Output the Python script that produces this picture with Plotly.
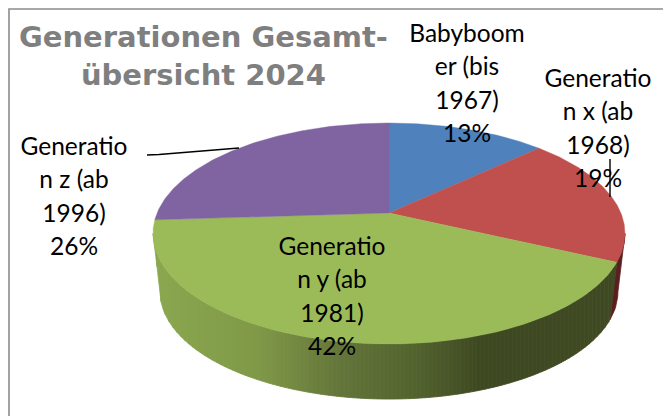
import numpy as np
import plotly.graph_objects as go

categories = ["Babyboomer (bis 1967)", "Generation x (ab 1968)", "Generation y (ab 1981)", "Generation z (ab 1996)"]
values = [13, 19, 42, 26]
top_colors = ["#4F81BD", "#C0504D", "#9BBB59", "#8064A2"]
label_lines = [
    ["Babyboom", "er (bis", "1967)", "13%"],
    ["Generatio", "n x (ab", "1968)", "19%"],
    ["Generatio", "n y (ab", "1981)", "42%"],
    ["Generatio", "n z (ab", "1996)", "26%"],
]
label_pos = [(467, 36), (598, 81), (332, 249), (74, 149)]
LINE_STEP = 33.2
title_lines = "Generationen Gesamt-<br>übersicht 2024"

# projected disc geometry (screen pixels)
CX, AY, A, B, P = 389, 213, 231.9, 106.7, 0.1855
BASE_AY, BASE_S = 272, 0.97


def rim(deg, apex=AY, s=1.0):
    t = np.radians(deg)
    u, v = np.sin(t), np.cos(t)
    w = 1 + P * v
    return CX + s * A * u / w, apex - s * B * v / w


fig = go.Figure()


def poly(x, y, color, lw=0.8):
    fig.add_trace(go.Scatter(x=list(x) + [x[0]], y=list(y) + [y[0]], mode="lines", fill="toself",
                             fillcolor=color, line=dict(color=color, width=lw),
                             hoverinfo="skip", showlegend=False))


cum = np.cumsum([0] + values) * 3.6
LEFT_END, RIGHT_START = 259.3, 100.7

# red wall sliver
th = np.linspace(RIGHT_START, cum[2], 12)
xt, yt = rim(th)
xb, yb = rim(th[::-1], BASE_AY, BASE_S)
poly(np.r_[xt, xb], np.r_[yt, yb], "#5A1F1E")

# green wall: vertical colour bands between the top rim and the base rim
th = np.linspace(cum[2], LEFT_END, 300)
xt, yt = rim(th)
xb, yb = rim(th, BASE_AY, BASE_S)
upper_x, upper_y = xt[::-1], yt[::-1]
lower_x = np.r_[xt[-1], xb[::-1], xt[0]]
lower_y = np.r_[yt[-1], yb[::-1], yt[0]]

wall_x = [153, 260, 340, 420, 480, 620]
wall_rgb = [(140, 168, 80), (128, 153, 72), (100, 118, 58), (82, 98, 46), (62, 73, 34), (64, 75, 35)]

edges = np.linspace(upper_x[0], upper_x[-1], 117)
for x0, x1 in zip(edges[:-1], edges[1:]):
    xs = np.linspace(x0, x1, 3)
    up = np.interp(xs, upper_x, upper_y)
    lo = np.interp(xs, lower_x, lower_y)
    mid = (x0 + x1) / 2
    rgb = [int(np.interp(mid, wall_x, [c[i] for c in wall_rgb])) for i in range(3)]
    poly(np.r_[xs, xs[::-1]], np.r_[up, lo[::-1]], "rgb(%d,%d,%d)" % tuple(rgb))

# top faces
for i, c in enumerate(top_colors):
    th = np.linspace(cum[i], cum[i + 1], 160)
    xs, ys = rim(th)
    poly(np.r_[CX, xs], np.r_[AY, ys], c, lw=0.4)

# leader lines
leader_left_x, leader_left_y = [147, 159, 239], [155, 154.5, 148]
leader_right_x, leader_right_y = [610, 610], [159, 197]
for lx, ly in ((leader_left_x, leader_left_y), (leader_right_x, leader_right_y)):
    fig.add_trace(go.Scatter(x=lx, y=ly, mode="lines", line=dict(color="black", width=1.4),
                             hoverinfo="skip", showlegend=False))

# labels, one text point per wrapped line
tx, ty, tt = [], [], []
for (px, py), lines in zip(label_pos, label_lines):
    for k, s in enumerate(lines):
        tx.append(px)
        ty.append(py + k * LINE_STEP)
        tt.append(s)
fig.add_trace(go.Scatter(x=tx, y=ty, mode="text", text=tt, textposition="middle center",
                         textfont=dict(family="Lato", size=24.5, color="black"),
                         hoverinfo="skip", showlegend=False))

fig.add_annotation(x=203, y=56, xref="x", yref="y", text=title_lines, showarrow=False, align="center",
                   font=dict(family="DejaVu Sans", size=29, color="#7F7F7F", weight="bold"))

# chart frame (only top and left edges are inside the crop)
fig.add_trace(go.Scatter(x=[671, 9, 9], y=[9, 9, 416], mode="lines",
                         line=dict(color="#8C8C8C", width=1.6), hoverinfo="skip", showlegend=False))

# page has an 8px body margin, so the axes are offset to keep data units = window pixels
fig.update_layout(
    width=663, height=408, margin=dict(l=0, r=0, t=0, b=0), autosize=False,
    paper_bgcolor="white", plot_bgcolor="white", showlegend=False,
    xaxis=dict(range=[8, 671], visible=False, fixedrange=True),
    yaxis=dict(range=[416, 8], visible=False, fixedrange=True),
)
fig.write_html("out.html", config=dict(displayModeBar=False))
